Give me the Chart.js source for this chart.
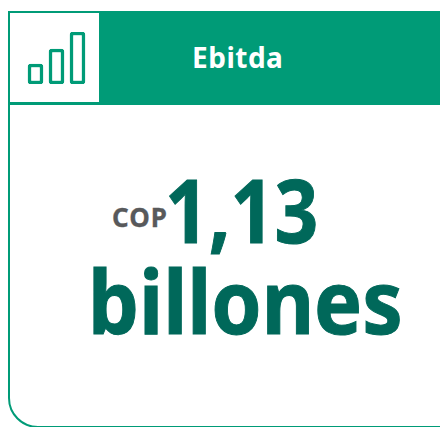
<!DOCTYPE html>
<html lang="es">
<head>
<meta charset="utf-8">
<title>Ebitda</title>
<script src="https://cdn.jsdelivr.net/npm/chart.js@4"></script>
<style>
  html, body { margin: 0; padding: 0; background: #fff; }
  body { width: 440px; height: 427px; position: relative; overflow: hidden; font-family: "Noto Sans", sans-serif; font-weight: 700; }
  #card { position: absolute; left: 8px; top: 11px; width: 460px; height: 413px; border: 2.5px solid #009b77; border-radius: 0 0 30px 30px; }
  #band { position: absolute; left: 99px; top: 11px; right: 0; height: 93.5px; background: #009b77; }
  #rule { position: absolute; left: 8px; top: 102px; width: 91px; height: 2.5px; background: #009b77; }
  #iconBars { position: absolute; left: 25px; top: 32px; width: 63px; height: 52px; }
  .t { position: absolute; white-space: nowrap; line-height: 1; transform-origin: 0 50%; }
  #title { left: 192px; top: 43px; font-size: 28px; letter-spacing: 0.5px; color: #fff; }
  #cop { left: 112px; top: 204px; font-size: 26px; letter-spacing: 1px; color: #58595b; -webkit-text-stroke: 0.3px #58595b; }
  #value { left: 165px; top: 165px; font-size: 88px; color: #00685a; transform: scaleX(0.87); -webkit-text-stroke: 1px #00685a; }
  #unit { left: 88px; top: 256px; font-size: 88px; color: #00685a; transform: scaleX(0.917); -webkit-text-stroke: 1px #00685a; }
</style>
</head>
<body>
<div id="card"></div>
<div id="band"></div>
<div id="rule"></div>
<div id="iconBars"><canvas id="bars" width="63" height="52"></canvas></div>
<div class="t" id="title"></div>
<div class="t" id="cop"></div>
<div class="t" id="value"></div>
<div class="t" id="unit"></div>
<script>
// Card copy
const titleText = "Ebitda";
const currency = "COP";
const amount = "1,13";
const unit = "billones";

// Rising bars of the card's icon
const iconCategories = ["a", "b", "c"];
const iconValues = [20, 35, 52];

document.getElementById("title").textContent = titleText;
document.getElementById("cop").textContent = currency;
document.getElementById("value").textContent = amount;
document.getElementById("unit").textContent = unit;

new Chart(document.getElementById("bars"), {
  type: "bar",
  data: {
    labels: iconCategories,
    datasets: [{
      data: iconValues,
      backgroundColor: "#ffffff",
      borderColor: "#009b77",
      borderWidth: 3.5,
      borderSkipped: false,
      borderRadius: 3,
      barThickness: 15
    }]
  },
  options: {
    responsive: false,
    animation: false,
    layout: { padding: 0 },
    plugins: { legend: { display: false }, tooltip: { enabled: false } },
    scales: {
      x: { display: false },
      y: { display: false, min: 0, max: 52 }
    }
  }
});
</script>
</body>
</html>
